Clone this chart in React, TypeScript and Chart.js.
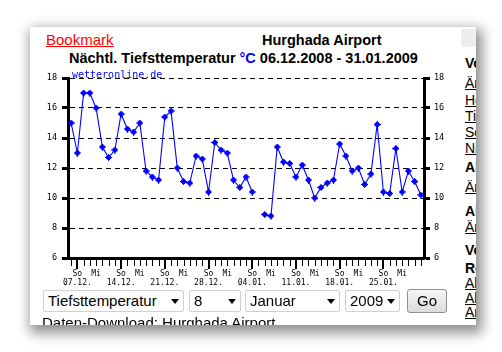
import React, { useEffect, useRef } from "react";
import { Chart, registerables } from "chart.js";

Chart.register(...registerables);

// ---- data ----
const dateLabels: string[] = [
  "06.12.", "07.12.", "08.12.", "09.12.", "10.12.", "11.12.", "12.12.", "13.12.", "14.12.", "15.12.",
  "16.12.", "17.12.", "18.12.", "19.12.", "20.12.", "21.12.", "22.12.", "23.12.", "24.12.", "25.12.",
  "26.12.", "27.12.", "28.12.", "29.12.", "30.12.", "31.12.", "01.01.", "02.01.", "03.01.", "04.01.",
  "05.01.", "06.01.", "07.01.", "08.01.", "09.01.", "10.01.", "11.01.", "12.01.", "13.01.", "14.01.",
  "15.01.", "16.01.", "17.01.", "18.01.", "19.01.", "20.01.", "21.01.", "22.01.", "23.01.", "24.01.",
  "25.01.", "26.01.", "27.01.", "28.01.", "29.01.", "30.01.", "31.01.",
];
const dateYears: number[] = [2008, 2009];

const minTemps: (number | null)[] = [
  15.0, 13.0, 17.0, 17.0, 16.0, 13.4, 12.7, 13.2, 15.6, 14.6,
  14.4, 15.0, 11.8, 11.4, 11.2, 15.4, 15.8, 12.0, 11.1, 11.0,
  12.8, 12.6, 10.4, 13.7, 13.2, 13.0, 11.2, 10.7, 11.4, 10.4,
  null, 8.9, 8.8, 13.4, 12.4, 12.3, 11.4, 12.2, 11.2, 10.0,
  10.7, 11.0, 11.2, 13.6, 12.8, 11.8, 12.0, 10.9, 11.6, 14.9,
  10.4, 10.3, 13.3, 10.4, 11.8, 11.1, 10.2,
];

const dayNames: string[] = ["So", "Mo", "Di", "Mi", "Do", "Fr", "Sa"];
const shownDayNames: string[] = ["So", "Mi"];
const yMin = 6;
const yMax = 18;
const yStep = 2;

const titleStation = "Hurghada Airport";
const titlePrefix = "Nächtl. Tiefsttemperatur ";
const titleUnit = "°C";
const titleRange = " 06.12.2008 - 31.01.2009";
const watermark = "wetteronline.de";

const selectValues: string[] = ["Tiefsttemperatur", "8", "Januar", "2009"];
const sideItems: { t: string; bold: boolean; y: number }[] = [
  { t: "Vorhersage", bold: true, y: 63 },
  { t: "Ändern", bold: false, y: 83 },
  { t: "Höchsttemperatur", bold: false, y: 100 },
  { t: "Tiefsttemperatur", bold: false, y: 116 },
  { t: "Sonnenschein", bold: false, y: 132 },
  { t: "Niederschlag", bold: false, y: 148 },
  { t: "Alle Werte", bold: true, y: 167 },
  { t: "Ändern", bold: false, y: 187 },
  { t: "Alle Orte", bold: true, y: 211 },
  { t: "Ändern", bold: false, y: 227 },
  { t: "Vergleich", bold: true, y: 250 },
  { t: "Rekorde", bold: true, y: 268 },
  { t: "Alle", bold: false, y: 283 },
  { t: "Alle", bold: false, y: 298 },
  { t: "Archiv", bold: false, y: 312 },
];

function weekdayOf(i: number): number {
  const [d, m] = dateLabels[i].split(".").map((s) => parseInt(s, 10));
  const year = m === 12 ? dateYears[0] : dateYears[1];
  return new Date(year, m - 1, d).getDay();
}

function makeMarker(): HTMLCanvasElement {
  const c = document.createElement("canvas");
  c.width = 7;
  c.height = 7;
  const g = c.getContext("2d")!;
  g.fillStyle = "#0000ff";
  g.fillRect(2, 0, 3, 7);
  g.fillRect(0, 2, 7, 3);
  g.fillRect(1, 1, 5, 5);
  g.clearRect(1, 1, 1, 1);
  g.clearRect(5, 1, 1, 1);
  g.clearRect(1, 5, 1, 1);
  g.clearRect(5, 5, 1, 1);
  g.clearRect(3, 0, 0, 0);
  g.clearRect(2, 0, 1, 1);
  g.clearRect(4, 0, 1, 1);
  g.clearRect(2, 6, 1, 1);
  g.clearRect(4, 6, 1, 1);
  g.clearRect(0, 2, 1, 1);
  g.clearRect(0, 4, 1, 1);
  g.clearRect(6, 2, 1, 1);
  g.clearRect(6, 4, 1, 1);
  return c;
}

const dayTicksPlugin = {
  id: "dayTicks",
  afterDraw(chart: any) {
    const xs = chart.scales.x;
    const ctx = chart.ctx;
    const y0 = chart.chartArea.bottom + 1;
    ctx.save();
    ctx.strokeStyle = "#000";
    for (let i = 0; i < dateLabels.length; i++) {
      const major = weekdayOf(i) === 0;
      const x = xs.getPixelForValue(i);
      ctx.lineWidth = major ? 2 : 1;
      const px = major ? Math.round(x) : Math.round(x) + 0.5;
      ctx.beginPath();
      ctx.moveTo(px, y0);
      ctx.lineTo(px, y0 + (major ? 10 : 7));
      ctx.stroke();
    }
    ctx.restore();
  },
};

const tickFont = { family: "'DejaVu Sans Mono', monospace", size: 8.5 };

export default function App() {
  const ref = useRef<HTMLCanvasElement>(null);

  useEffect(() => {
    const marker = makeMarker();
    const chart = new Chart(ref.current!, {
      type: "line",
      data: {
        labels: dateLabels,
        datasets: [
          {
            data: minTemps,
            borderColor: "#0000ff",
            borderWidth: 1.1,
            pointStyle: marker as any,
            pointRadius: 3.5,
            spanGaps: false,
            tension: 0,
            yAxisID: "y",
          },
        ],
      },
      options: {
        responsive: false,
        animation: false,
        devicePixelRatio: 1,
        layout: { padding: { top: 14, left: 0, right: 0, bottom: 0 } },
        plugins: {
          legend: { display: false },
          tooltip: { enabled: false },
          title: { display: false },
        },
        scales: {
          x: {
            type: "category",
            offset: true,
            grid: {
              display: true,
              drawOnChartArea: false,
              drawTicks: true,
              tickLength: 8,
              tickColor: "rgba(0,0,0,0)",
            },
            border: { display: true, width: 3, color: "#000" },
            ticks: {
              autoSkip: false,
              maxRotation: 0,
              minRotation: 0,
              padding: 3,
              color: "#000",
              font: { family: "'DejaVu Sans Mono', monospace", size: 8, lineHeight: 1.125 },
              callback: (_v: any, i: number) => {
                const wd = dayNames[weekdayOf(i)];
                if (!shownDayNames.includes(wd)) return "";
                return wd === "So" ? [wd, dateLabels[i]] : [wd];
              },
            },
            afterFit: (s: any) => {
              s.height = 32;
            },
          },
          y: {
            position: "left",
            min: yMin,
            max: yMax,
            ticks: { stepSize: yStep, padding: 5, color: "#000", font: tickFont },
            grid: {
              color: "#000",
              lineWidth: 1,
              tickLength: 6,
              tickWidth: 3,
              tickColor: "#000",
              tickBorderDash: [],
            },
            border: { display: true, width: 3, color: "#000", dash: [5, 4] },
            afterFit: (s: any) => {
              s.width = 32;
            },
          },
          y2: {
            position: "right",
            min: yMin,
            max: yMax,
            ticks: { stepSize: yStep, padding: 4, color: "#000", font: tickFont },
            grid: {
              drawOnChartArea: false,
              tickLength: 6,
              tickWidth: 3,
              tickColor: "#000",
              tickBorderDash: [],
            },
            border: { display: true, width: 3, color: "#000" },
            afterFit: (s: any) => {
              s.width = 36;
            },
          },
        },
      } as any,
      plugins: [dayTicksPlugin],
    });
    return () => chart.destroy();
  }, []);

  const F = { left: 30, top: 27 };
  const sans = "'Liberation Sans', Arial, sans-serif";

  const selBoxes = [
    { x: 43, w: 141 },
    { x: 189, w: 52 },
    { x: 245, w: 95 },
    { x: 345, w: 55 },
  ];

  return (
    <div
      style={{
        position: "fixed",
        left: 0,
        top: 0,
        width: 502,
        height: 352,
        background: "#fff",
        overflow: "hidden",
        fontFamily: sans,
      }}
    >
      <div
        style={{
          position: "absolute",
          left: F.left,
          top: F.top,
          width: 446,
          height: 298,
          background: "#fff",
          boxShadow: "3px 5px 12px 3px rgba(0,0,0,0.45)",
          overflow: "hidden",
        }}
      >
        <div
          style={{
            position: "absolute",
            left: 461 - F.left,
            top: 2,
            width: 20,
            height: 18,
            background: "#eeeeee",
          }}
        />
        <div
          style={{
            position: "absolute",
            left: 46 - F.left,
            top: 31 - F.top,
            fontSize: 15,
            lineHeight: "17px",
            color: "#ff0000",
            textDecoration: "underline",
            whiteSpace: "nowrap",
          }}
        >
          Bookmark
        </div>
        <div
          style={{
            position: "absolute",
            left: 262 - F.left,
            top: 32 - F.top,
            fontSize: 14.5,
            fontWeight: "bold",
            lineHeight: "16px",
            color: "#000",
            whiteSpace: "nowrap",
          }}
        >
          {titleStation}
        </div>
        <div
          style={{
            position: "absolute",
            left: 69 - F.left,
            top: 50 - F.top,
            fontSize: 14.5,
            fontWeight: "bold",
            lineHeight: "16px",
            color: "#000",
            whiteSpace: "nowrap",
          }}
        >
          {titlePrefix}
          <span style={{ color: "#0000ff" }}>{titleUnit}</span>
          {titleRange}
        </div>

        <canvas
          ref={ref}
          width={424}
          height={226}
          style={{ position: "absolute", left: 36 - F.left, top: 64 - F.top, width: 424, height: 226 }}
        />
        <div
          style={{
            position: "absolute",
            left: 72 - F.left,
            top: 69 - F.top,
            fontFamily: "'DejaVu Sans Mono', monospace",
            fontSize: 10,
            lineHeight: "12px",
            color: "#0000ff",
            whiteSpace: "nowrap",
          }}
        >
          {watermark}
        </div>

        {sideItems.map((it, k) => (
          <div
            key={k}
            style={{
              position: "absolute",
              left: 465 - F.left,
              top: it.y - 8 - F.top,
              fontSize: 14,
              lineHeight: "16px",
              fontWeight: it.bold ? "bold" : "normal",
              textDecoration: it.bold ? "none" : "underline",
              color: "#000",
              whiteSpace: "nowrap",
            }}
          >
            {it.t}
          </div>
        ))}

        {selBoxes.map((b, k) => (
          <div
            key={k}
            style={{
              position: "absolute",
              left: b.x - F.left,
              top: 290 - F.top,
              width: b.w,
              height: 22,
              boxSizing: "border-box",
              border: "1px solid #d0d0d0",
              borderRadius: 2,
              background: "#fff",
              fontSize: 15,
              lineHeight: "20px",
              paddingLeft: 4,
              color: "#000",
              whiteSpace: "nowrap",
            }}
          >
            {selectValues[k]}
            <div
              style={{
                position: "absolute",
                right: 4,
                top: 8,
                width: 0,
                height: 0,
                borderLeft: "4.5px solid transparent",
                borderRight: "4.5px solid transparent",
                borderTop: "5px solid #000",
              }}
            />
          </div>
        ))}
        <div
          style={{
            position: "absolute",
            left: 407 - F.left,
            top: 289 - F.top,
            width: 40,
            height: 24,
            boxSizing: "border-box",
            border: "1px solid #8f8f8f",
            borderRadius: 3,
            background: "linear-gradient(#f6f6f6, #dcdcdc)",
            fontSize: 15,
            lineHeight: "22px",
            textAlign: "center",
            color: "#000",
          }}
        >
          Go
        </div>
        <div
          style={{
            position: "absolute",
            left: 42 - F.left,
            top: 314 - F.top,
            fontSize: 15,
            lineHeight: "17px",
            color: "#000",
            whiteSpace: "nowrap",
          }}
        >
          Daten-Download: Hurghada Airport
        </div>
      </div>
    </div>
  );
}
